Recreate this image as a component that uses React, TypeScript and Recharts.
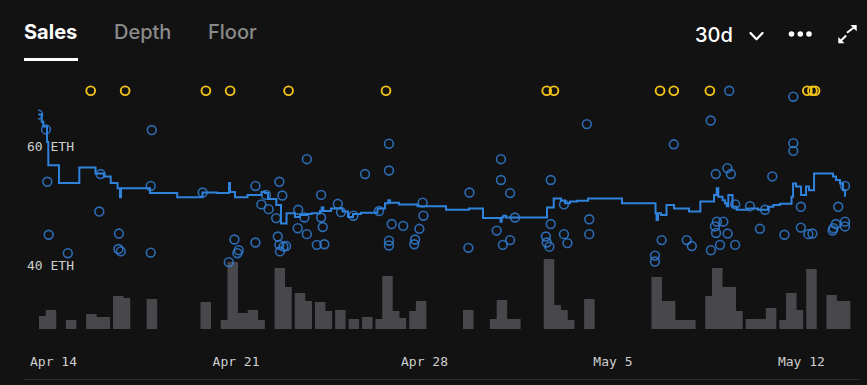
import React from 'react';
import { ComposedChart, XAxis, YAxis, Bar, Line, Scatter } from 'recharts';

// x values are days since Apr 14 00:00
const tickDays = [0, 7, 14, 21, 28];
const tickLabels = ['Apr 14', 'Apr 21', 'Apr 28', 'May 5', 'May 12'];
const priceTicks = [40, 60];

// 6-hour volume bins: start hour relative to Apr 14 00:00, volume in ETH
const volumeBinHour = [-6, 0, 18, 36, 42, 48, 60, 66, 90, 138, 156, 162, 168, 174, 180, 186, 204, 210, 222, 228, 240, 246, 258, 270, 282, 294, 300, 306, 312, 324, 330, 372, 396, 402, 408, 414, 444, 450, 456, 462, 480, 540, 546, 552, 558, 564, 570, 588, 594, 600, 606, 612, 624, 630, 636, 642, 654, 660, 666, 678, 696, 702, 708];
const volumeEth = [65, 95, 45, 75, 60, 60, 165, 155, 150, 135, 45, 335, 80, 80, 95, 45, 305, 210, 180, 140, 135, 90, 95, 50, 60, 50, 265, 90, 55, 90, 140, 95, 50, 145, 50, 50, 350, 120, 95, 45, 150, 260, 140, 140, 45, 45, 45, 165, 305, 210, 210, 90, 50, 50, 50, 105, 45, 180, 95, 300, 170, 140, 140];

// individual sales
const saleDay = [-0.35, -0.06, 3.87, -0.01, 1.97, 1.92, 0.04, 2.65, 2.63, 2.72, 0.75, 3.83, 3.83, 5.76, 6.94, 7.10, 7.05, 6.73, 7.72, 7.72, 7.94, 8.21, 8.49, 8.11, 8.61, 8.72, 8.55, 8.61, 8.76, 8.63, 8.86, 9.31, 9.29, 9.63, 12.68, 11.79, 12.68, 10.16, 10.78, 10.90, 11.36, 10.16, 9.54, 12.31, 13.93, 13.96, 12.78, 13.21, 10.22, 9.63, 13.81, 10.00, 10.28, 12.68, 12.68, 13.65, 13.62, 15.63, 15.67, 16.84, 16.84, 17.18, 16.68, 17.18, 16.91, 17.36, 18.69, 18.69, 18.51, 18.54, 18.64, 19.18, 19.31, 19.18, 25.32, 27.70, 20.03, 24.63, 23.26, 27.70, 27.70, 24.82, 25.25, 25.38, 26.92, 29.62, 26.09, 26.65, 25.54, 27.98, 29.37, 20.12, 20.12, 22.81, 22.56, 22.56, 23.74, 23.93, 24.86, 25.10, 24.79, 24.83, 25.26, 24.98, 24.64, 25.54, 26.46, 27.37, 27.98, 28.26, 28.41, 29.19, 29.28, 29.16, 29.62, 29.62];
const salePrice = [65.4, 62.9, 62.8, 54.1, 55.4, 49.1, 45.2, 45.4, 42.8, 42.4, 42.1, 42.2, 53.4, 52.3, 44.4, 42.6, 42.1, 40.6, 53.4, 43.9, 50.3, 49.5, 48.0, 51.9, 54.1, 51.8, 44.9, 43.5, 43.2, 42.4, 43.3, 49.4, 46.3, 57.9, 60.5, 55.4, 56.0, 51.9, 50.4, 49.0, 48.4, 48.1, 48.1, 49.2, 50.6, 48.4, 47.0, 46.7, 46.5, 45.3, 46.2, 43.5, 43.6, 44.2, 43.4, 44.4, 43.6, 43.0, 52.3, 57.9, 54.4, 52.2, 45.9, 44.3, 43.5, 48.1, 54.4, 47.0, 44.9, 43.9, 43.2, 45.3, 43.8, 50.3, 69.4, 68.4, 63.8, 64.4, 60.4, 60.6, 59.3, 55.4, 56.4, 55.4, 55.0, 53.4, 50.0, 49.4, 50.3, 49.9, 49.9, 47.8, 45.3, 44.3, 41.7, 40.7, 44.3, 43.3, 47.4, 47.4, 46.6, 45.5, 45.4, 43.5, 42.6, 43.5, 46.2, 45.2, 46.4, 45.3, 45.4, 46.3, 47.0, 45.9, 47.4, 46.6];

// sales above the visible range, pinned at the top
const outlierDay = [1.60, 2.88, 5.88, 6.78, 8.95, 12.57, 18.54, 18.81, 22.75, 23.26, 24.60, 28.22, 28.41, 28.51];
const outlierCap = 69.4;

// smoothed floor line (step)
const floorDay = [-0.345, -0.219, -0.16, -0.022, 0.026, 0.423, 1.178, 1.779, 2.095, 2.344, 2.597, 2.689, 2.727, 3.804, 4.814, 5.754, 6.282, 6.739, 6.776, 6.961, 7.426, 7.946, 8.076, 8.187, 8.496, 8.67, 8.875, 9.19, 9.376, 9.625, 9.811, 10.119, 10.182, 10.241, 10.527, 10.955, 11.159, 11.345, 11.642, 12.255, 12.533, 12.656, 12.719, 13.054, 13.741, 14.799, 15.654, 16.174, 16.824, 16.868, 16.928, 17.028, 18.551, 18.8, 19.071, 19.22, 19.406, 19.666, 20.074, 21.337, 22.582, 22.619, 22.675, 22.786, 22.99, 23.269, 23.826, 24.246, 24.755, 24.855, 24.914, 25.07, 25.163, 25.226, 25.286, 25.442, 25.598, 25.999, 26.389, 26.761, 26.958, 27.207, 27.634, 27.69, 27.801, 27.987, 28.173, 28.284, 28.47, 29.175, 29.287, 29.435, 29.547, 29.621];
const floorPrice = [65.4, 64.2, 63.4, 60.8, 56.9, 53.9, 56.5, 55.5, 55.0, 53.9, 53.0, 51.5, 53.0, 52.2, 51.5, 52.3, 52.2, 53.9, 52.4, 51.5, 51.9, 52.4, 52.2, 51.2, 50.2, 47.1, 48.8, 48.2, 48.5, 48.7, 48.8, 49.2, 49.8, 49.2, 49.6, 49.1, 48.2, 48.7, 48.9, 49.6, 50.5, 51.0, 50.6, 50.3, 50.0, 49.4, 49.6, 48.0, 47.4, 48.1, 48.4, 48.1, 49.8, 51.3, 50.9, 50.5, 50.8, 50.9, 51.3, 50.5, 48.8, 47.7, 48.8, 48.5, 50.2, 49.6, 49.1, 50.8, 51.9, 53.0, 51.6, 51.0, 50.5, 50.0, 51.9, 49.9, 49.4, 49.6, 49.4, 49.9, 50.2, 50.4, 51.6, 53.8, 53.3, 51.9, 53.3, 52.7, 55.5, 55.0, 54.4, 53.8, 52.7, 51.6];

const volumeData = volumeBinHour.map((h, i) => ({ t: (h + 3) / 24, vol: volumeEth[i] }));
const sales = saleDay.map((d, i) => ({ t: d, p: salePrice[i] }));
const outliers = outlierDay.map((d) => ({ t: d, p: outlierCap }));
const floor = floorDay.map((d, i) => ({ t: d, p: floorPrice[i] }));

const BG = '#121212';
const AXIS_TEXT = '#cfcfcf';
const MONO = 'DejaVu Sans Mono, monospace';
const CHAR_W = 7.83;
const LABEL_MIN_LEFT = 30;

const XTick = (props: any) => {
  const { x, y, payload } = props;
  const label = tickLabels[tickDays.indexOf(payload.value)] ?? '';
  const w = label.length * CHAR_W;
  const left = Math.max(x - w / 2, LABEL_MIN_LEFT);
  return (
    <text x={left} y={y} dy={9.2} textAnchor="start" fill={AXIS_TEXT} fontSize={13} fontFamily={MONO}>
      {label}
    </text>
  );
};

const YTick = (props: any) => {
  const { x, y, payload } = props;
  return (
    <text x={x} y={y} dy={4.6} textAnchor="start" fill={AXIS_TEXT} fontSize={13} fontFamily={MONO}>
      {`${payload.value} ETH`}
    </text>
  );
};

const VolumeBar = (props: any) => {
  const { x, y, width, height } = props;
  if (!height || height <= 0) return null;
  const cx = x + width / 2;
  return <rect x={cx - 5.25} y={y} width={10.5} height={height} fill="#48484c" />;
};

const BlueRing = (props: any) => (
  <circle cx={props.cx} cy={props.cy} r={4.4} fill="none" stroke="#3382dc" strokeOpacity={0.8} strokeWidth={1.6} />
);

const YellowRing = (props: any) => (
  <circle cx={props.cx} cy={props.cy} r={4.4} fill="none" stroke="#f2c316" strokeWidth={1.9} />
);

export default function App() {
  return (
    <div style={{ position: 'fixed', left: 0, top: 0, width: 867, height: 385, background: BG, overflow: 'hidden', fontFamily: 'Inter, sans-serif' }}>
      <div style={{ position: 'absolute', left: 24, top: 20, fontSize: 20, lineHeight: '24px', fontWeight: 700, color: '#ffffff' }}>Sales</div>
      <div style={{ position: 'absolute', left: 114, top: 20, fontSize: 20, lineHeight: '24px', fontWeight: 500, color: '#8a8a8a' }}>Depth</div>
      <div style={{ position: 'absolute', left: 208, top: 20, fontSize: 20, lineHeight: '24px', fontWeight: 500, color: '#8a8a8a' }}>Floor</div>
      <div style={{ position: 'absolute', left: 24, top: 58, width: 54, height: 3, background: '#ffffff' }} />
      <div style={{ position: 'absolute', left: 695, top: 23, fontSize: 20, lineHeight: '24px', fontWeight: 500, color: '#ffffff' }}>30d</div>
      <svg width={867} height={80} style={{ position: 'absolute', left: 0, top: 0 }}>
        <polyline points="750.5,33 756.5,39.3 762.5,33" fill="none" stroke="#ffffff" strokeWidth={2.2} strokeLinecap="round" strokeLinejoin="round" />
        <circle cx={791.5} cy={34} r={2.8} fill="#ffffff" />
        <circle cx={800.3} cy={34} r={2.8} fill="#ffffff" />
        <circle cx={809} cy={34} r={2.8} fill="#ffffff" />
        <polygon points="850.5,25 856.7,25 856.7,31.2" fill="#ffffff" />
        <line x1={855.5} y1={26.2} x2={847} y2={32.8} stroke="#ffffff" strokeWidth={2} />
        <polygon points="838.3,37 838.3,43.3 844.5,43.3" fill="#ffffff" />
        <line x1={839.5} y1={42} x2={846.2} y2={35.5} stroke="#ffffff" strokeWidth={2} />
      </svg>
      <div style={{ position: 'absolute', left: 24, top: 379, width: 836, height: 1, background: '#2c2c2c' }} />
      <div style={{ position: 'absolute', left: 0, top: 0 }}>
        <ComposedChart width={867} height={385} data={volumeData} margin={{ top: 80, right: 15, bottom: 16, left: 27 }}>
          <XAxis
            dataKey="t"
            type="number"
            domain={[-0.357, 29.88]}
            allowDataOverflow
            ticks={tickDays}
            interval={0}
            axisLine={false}
            tickLine={false}
            tickSize={0}
            tickMargin={28}
            height={40}
            tick={XTick}
          />
          <YAxis
            yAxisId="p"
            dataKey="p"
            type="number"
            domain={[29.36, 71.21]}
            allowDataOverflow
            ticks={priceTicks}
            interval={0}
            axisLine={false}
            tickLine={false}
            tickSize={0}
            tickMargin={11}
            width={11}
            tick={YTick}
          />
          <YAxis yAxisId="v" type="number" domain={[0, 1245]} allowDataOverflow hide />
          <Bar yAxisId="v" dataKey="vol" barSize={4} shape={VolumeBar} isAnimationActive={false} />
          <Line yAxisId="p" data={floor} dataKey="p" type="stepAfter" stroke="#2f83dd" strokeWidth={2} dot={false} activeDot={false} isAnimationActive={false} />
          <Scatter yAxisId="p" data={sales} shape={BlueRing} isAnimationActive={false} />
          <Scatter yAxisId="p" data={outliers} shape={YellowRing} isAnimationActive={false} />
        </ComposedChart>
      </div>
    </div>
  );
}
